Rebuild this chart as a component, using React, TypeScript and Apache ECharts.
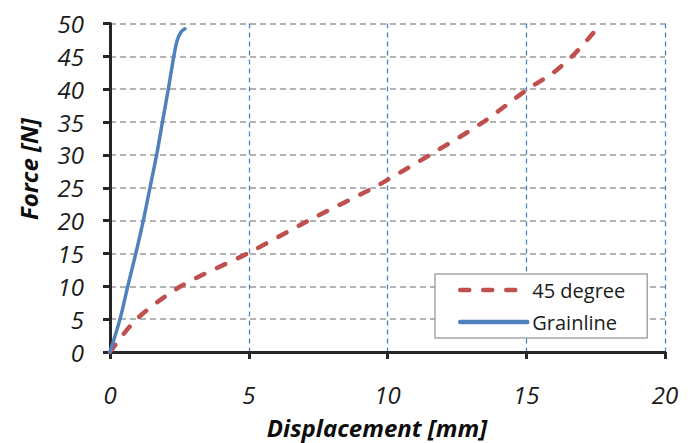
import React, { useEffect, useRef } from "react";
import * as echarts from "echarts";

const grainlineData: [number, number][] = [
  [0, 0], [0.36, 5], [0.64, 10], [0.93, 15], [1.2, 20], [1.44, 25], [1.68, 30],
  [1.89, 35], [2.1, 40], [2.3, 45], [2.42, 47.4], [2.56, 48.7], [2.7, 49.2],
];
const degree45Data: [number, number][] = [
  [0, 0], [0.96, 5], [2.55, 10], [5, 15.1], [7.15, 20], [9.5, 25], [10, 26.2],
  [11.53, 30], [13.45, 35], [15.05, 40], [15.97, 42.5], [16.65, 45], [17.2, 47.5], [17.7, 50],
];
const xTicks = [0, 5, 10, 15, 20];
const yTicks = [0, 5, 10, 15, 20, 25, 30, 35, 40, 45, 50];
const seriesNames = ["45 degree", "Grainline"];
const xTitle = "Displacement [mm]";
const yTitle = "Force [N]";

export default function App() {
  const ref = useRef<HTMLDivElement>(null);
  useEffect(() => {
    if (!ref.current) return;
    const chart = echarts.init(ref.current, undefined, { renderer: "svg" });
    const font = "'Open Sans', sans-serif";
    chart.setOption({
      animation: false,
      backgroundColor: "#ffffff",
      grid: { left: 110, right: 35, top: 23.5, bottom: 91, containLabel: false },
      xAxis: {
        type: "value",
        min: xTicks[0],
        max: xTicks[xTicks.length - 1],
        interval: 5,
        axisLine: { show: true, onZero: false, lineStyle: { color: "#262626", width: 3 } },
        axisTick: { show: true, length: 7, lineStyle: { color: "#262626", width: 3 } },
        axisLabel: { margin: 30, fontFamily: font, fontStyle: "italic", fontSize: 24, lineHeight: 24, color: "#1a1a1a" },
        splitLine: { show: true, lineStyle: { color: "#4f81bd", width: 1.3, type: [5, 4] } },
      },
      yAxis: {
        type: "value",
        min: yTicks[0],
        max: yTicks[yTicks.length - 1],
        interval: 5,
        axisLine: { show: true, onZero: false, lineStyle: { color: "#262626", width: 3 } },
        axisTick: { show: true, length: 7, lineStyle: { color: "#262626", width: 3 } },
        axisLabel: { margin: 26, fontFamily: font, fontStyle: "italic", fontSize: 24, color: "#1a1a1a" },
        splitLine: { show: true, lineStyle: { color: "#999999", width: 1.5, type: [6, 4] } },
      },
      legend: {
        orient: "vertical",
        left: 435,
        top: 274,
        padding: [6, 22, 6, 23],
        itemWidth: 67,
        itemHeight: 14,
        itemGap: 12,
        itemTextGap: 5,
        backgroundColor: "#ffffff",
        borderColor: "#a6a6a6",
        borderWidth: 1.5,
        borderRadius: 0,
        itemStyle: { opacity: 0 },
        lineStyle: { width: 4.5, cap: "round" },
        data: seriesNames,
        textStyle: { fontFamily: font, fontSize: 20, color: "#1a1a1a" },
      },
      graphic: [
        {
          type: "text",
          x: 377,
          y: 427,
          style: {
            text: xTitle,
            font: `italic bold 24px ${font}`,
            fill: "#0d0d0d",
            textAlign: "center",
            textVerticalAlign: "middle",
          },
        },
        {
          type: "text",
          x: 28,
          y: 169,
          rotation: Math.PI / 2,
          style: {
            text: yTitle,
            font: `italic bold 24px ${font}`,
            fill: "#0d0d0d",
            textAlign: "center",
            textVerticalAlign: "middle",
          },
        },
      ],
      series: [
        {
          name: seriesNames[0],
          type: "line",
          data: degree45Data,
          smooth: 0.3,
          symbol: "none",
          lineStyle: { color: "#c0504d", width: 4.5, type: [9, 14], cap: "round" },
          itemStyle: { color: "#c0504d" },
          z: 3,
        },
        {
          name: seriesNames[1],
          type: "line",
          data: grainlineData,
          smooth: 0.3,
          symbol: "none",
          lineStyle: { color: "#4f81bd", width: 3.5, cap: "round" },
          itemStyle: { color: "#4f81bd" },
          z: 4,
        },
      ],
    });
    return () => chart.dispose();
  }, []);
  return (
    <div
      ref={ref}
      style={{ position: "fixed", left: 0, top: 0, width: 700, height: 443 }}
    />
  );
}
